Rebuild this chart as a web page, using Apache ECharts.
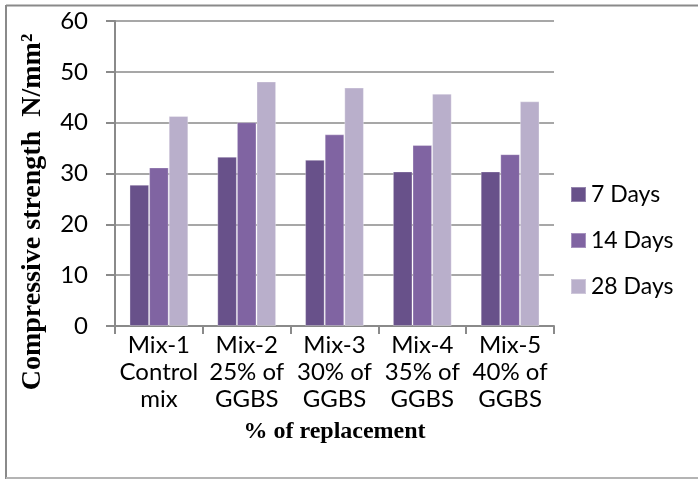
<!DOCTYPE html>
<html>
<head>
<meta charset="utf-8">
<script src="https://cdn.jsdelivr.net/npm/echarts@6/dist/echarts.min.js"></script>
<style>
  html, body { margin: 0; padding: 0; background: #fff; }
  #chart { width: 698px; height: 479px; }
</style>
</head>
<body>
<div id="chart"></div>
<script>
// Compressive strength of concrete mixes with GGBS replacement
var categories = [
  'Mix-1\nControl\nmix',
  'Mix-2\n25% of\nGGBS',
  'Mix-3\n30% of\nGGBS',
  'Mix-4\n35% of\nGGBS',
  'Mix-5\n40% of\nGGBS'
];
var seriesNames = ['7 Days', '14 Days', '28 Days'];
var days7 = [27.8, 33.3, 32.7, 30.4, 30.4];
var days14 = [31.2, 40.1, 37.7, 35.6, 33.8];
var days28 = [41.3, 48.1, 46.9, 45.7, 44.2];
var yTicks = { min: 0, max: 60, interval: 10 };

var colors = ['#68518a', '#8064a2', '#b9afcb'];
var gridGray = '#8a8a8a';
var sansFont = 'Lato, "Liberation Sans", sans-serif';
var serifFont = '"Liberation Serif", "Times New Roman", serif';

var chart = echarts.init(document.getElementById('chart'), null, { renderer: 'canvas' });

function barSeries(name, data, color) {
  return {
    name: name,
    type: 'bar',
    data: data,
    barGap: '0%',
    barCategoryGap: '33%',
    itemStyle: { color: color, borderColor: 'rgba(255,255,255,0.3)', borderWidth: 1 },
    emphasis: { disabled: true }
  };
}

chart.setOption({
  animation: false,
  backgroundColor: '#ffffff',
  grid: { left: 115, right: 144, top: 21, bottom: 153, containLabel: false },
  legend: {
    orient: 'vertical',
    left: 565,
    top: 178,
    itemWidth: 15,
    itemHeight: 15,
    itemGap: 23,
    icon: 'rect',
    textStyle: { fontFamily: sansFont, fontSize: 23, color: '#000', padding: [0, 0, 0, 0] },
    data: seriesNames
  },
  xAxis: {
    type: 'category',
    data: categories,
    name: '% of replacement',
    nameLocation: 'middle',
    nameGap: 94,
    nameTextStyle: { fontFamily: serifFont, fontWeight: 'bold', fontSize: 24, color: '#000' },
    axisLine: { lineStyle: { color: gridGray, width: 2 } },
    axisTick: { show: true, length: 8, lineStyle: { color: gridGray, width: 2 } },
    axisLabel: {
      interval: 0,
      margin: 6,
      fontFamily: sansFont,
      fontSize: 24,
      lineHeight: 27,
      color: '#000'
    }
  },
  yAxis: {
    type: 'value',
    min: yTicks.min,
    max: yTicks.max,
    interval: yTicks.interval,
    axisLine: { show: true, lineStyle: { color: gridGray, width: 2 } },
    axisTick: { show: true, length: 9, lineStyle: { color: gridGray, width: 2 } },
    splitLine: { show: true, lineStyle: { color: gridGray, width: 1.5 } },
    axisLabel: { margin: 27, fontFamily: sansFont, fontSize: 24, color: '#000' }
  },
  graphic: [
    {
      type: 'text',
      x: 33,
      y: 212,
      rotation: Math.PI / 2,
      style: {
        text: 'Compressive strength  N/mm\u00B2',
        font: 'bold 28px ' + serifFont,
        fill: '#000',
        align: 'center',
        verticalAlign: 'middle'
      }
    },
    { type: 'line', shape: { x1: 6, y1: 5.5, x2: 698, y2: 5.5 }, style: { stroke: '#8a8a8a', lineWidth: 2 } },
    { type: 'line', shape: { x1: 6, y1: 5, x2: 6, y2: 479 }, style: { stroke: '#8a8a8a', lineWidth: 2 } },
    { type: 'line', shape: { x1: 6, y1: 478, x2: 698, y2: 478 }, style: { stroke: '#b4b4b4', lineWidth: 2 } }
  ],
  series: [
    barSeries(seriesNames[0], days7, colors[0]),
    barSeries(seriesNames[1], days14, colors[1]),
    barSeries(seriesNames[2], days28, colors[2])
  ]
});
</script>
</body>
</html>
